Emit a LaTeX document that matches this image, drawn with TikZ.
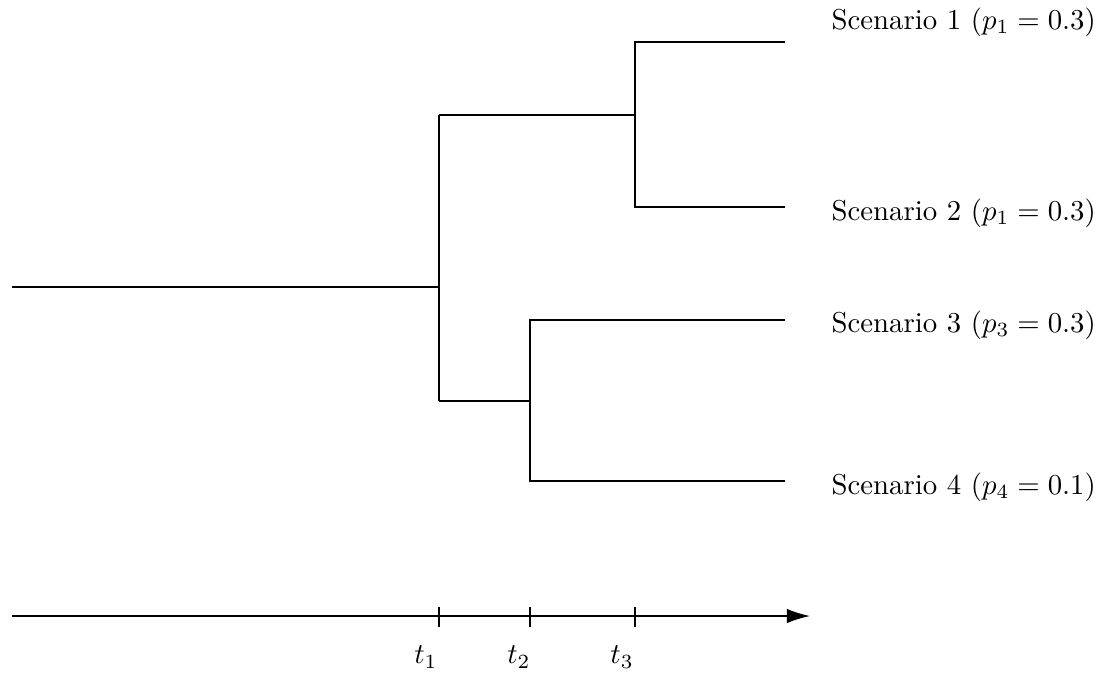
\documentclass[tikz,border=0pt]{standalone}
\usepackage{amsmath}
\usetikzlibrary{arrows.meta}

\begin{document}
\begin{tikzpicture}[
      x=0.0122cm, y=-0.0122cm,
      branch/.style={line width=0.5pt},
      tick/.style={line width=0.5pt},
      leaf/.style={anchor=west, inner sep=0pt},
      >=Latex
    ]
    \useasboundingbox (0,0) rectangle (1119,672);

    % ---- horizontal positions ----
    \def\xa{439}
    \def\xb{530}
    \def\xc{635}
    \def\xend{785}

    % ---- axis ----
    \def\yaxis{616}

    % ================= tree =================
    \coordinate (root) at (12,287);
    \coordinate (T1) at (\xa,287);
    \coordinate (U1) at (\xa,115);
    \coordinate (D1) at (\xa,401);
    \coordinate (U3) at (\xc,115);
    \coordinate (D2) at (\xb,401);

    \coordinate (E1) at (\xend,42);
    \coordinate (E2) at (\xend,207);
    \coordinate (E3) at (\xend,320);
    \coordinate (E4) at (\xend,481);

    \draw[branch] (root) -- (T1);
    \draw[branch] (U1) -- (D1);
    \draw[branch] (U1) -- (U3);
    \draw[branch] (D1) -- (D2);
    \draw[branch] (E1) -| (U3) |- (E2);
    \draw[branch] (E3) -| (D2) |- (E4);

    % scenario labels
    \node[leaf] (S1) at (831,22)  {Scenario 1 ($p_1 = 0.3$)};
    \node[leaf] (S2) at (831,213) {Scenario 2 ($p_1 = 0.3$)};
    \node[leaf] (S3) at (831,325) {Scenario 3 ($p_3 = 0.3$)};
    \node[leaf] (S4) at (831,487) {Scenario 4 ($p_4 = 0.1$)};

    % ================= time axis =================
    \coordinate (A0) at (12,\yaxis);
    \coordinate (A1) at (810,\yaxis);
    \draw[branch, -{Latex[length=8pt, width=5pt]}] (A0) -- (A1);

    \draw[tick] (\xa,607) -- (\xa,627);
    \draw[tick] (\xb,607) -- (\xb,627);
    \draw[tick] (\xc,607) -- (\xc,627);

    \node (L1) at ({\xa-13},657) {$t_1$};
    \node (L2) at ({\xb-11},657) {$t_2$};
    \node (L3) at ({\xc-13},657) {$t_3$};

\end{tikzpicture}
\end{document}
